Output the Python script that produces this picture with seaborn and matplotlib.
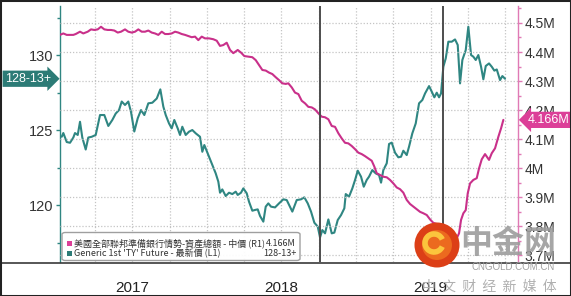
import numpy as np
import pandas as pd
import matplotlib
matplotlib.use("Agg")
import matplotlib.pyplot as plt
import matplotlib.transforms as mtransforms
from matplotlib.patches import FancyBboxPatch, Rectangle, Ellipse, Arc
from matplotlib.lines import Line2D
import seaborn as sns

# ---------------- data (weeks since 2017-01-01) ----------------
ty_week = [1.40, 1.96, 3.15, 4.30, 5.46, 6.05, 7.00, 7.80, 8.60, 9.79, 10.70, 11.89, 13.29,
           14.80, 16.30, 17.70, 19.10, 20.29, 21.44, 22.39, 23.54, 24.69, 25.64, 26.79, 27.98,
           29.14, 30.29, 31.69, 33.09, 34.63, 35.89, 36.94, 37.78, 38.93, 39.87, 40.78, 41.97,
           42.78, 43.58, 44.77, 45.93, 47.08, 48.27, 49.77, 50.58, 51.28, 52.47, 53.87, 55.26,
           56.17, 56.77, 57.57, 58.76, 59.92, 61.07, 62.26, 62.96, 64.11, 64.92, 66.11, 66.91,
           68.07, 69.01, 69.95, 70.76, 71.92, 72.75, 73.66, 74.61, 76.01, 77.41, 78.91, 80.10,
           82.06, 83.60, 85.10, 86.26, 87.45, 88.60, 89.76, 90.95, 91.75, 92.55, 93.50, 94.66,
           95.84, 96.75, 97.94, 99.10, 100.25, 100.74, 101.90, 103.05, 104.00, 104.94, 106.09,
           107.04, 108.08, 108.89, 110.04, 111.23, 112.39, 113.09, 113.89, 115.08, 115.89,
           116.83, 117.98, 119.14, 120.08, 120.89, 122.07, 122.88, 124.03, 125.22, 126.38,
           127.53, 128.48, 129.88, 130.82, 131.73, 132.57, 133.38, 134.07, 134.88, 135.72,
           136.63, 137.82, 138.97, 139.91, 140.72, 141.53, 142.71, 143.62, 144.57, 145.37,
           146.21, 147.12, 148.07, 148.87, 149.71, 150.86, 151.81, 152.72, 153.56, 154.71,
           155.52, 156.46]
ty_price = [124.55, 124.80, 124.20, 124.15, 124.50, 124.80, 124.67, 125.55, 124.50, 123.70,
            124.50, 124.55, 124.67, 126.00, 126.00, 125.27, 125.67, 126.10, 126.33, 126.90,
            126.67, 126.90, 126.20, 124.90, 125.78, 126.33, 126.00, 126.78, 126.82, 127.10,
            127.71, 126.56, 126.00, 125.44, 125.11, 125.67, 125.11, 124.67, 125.22, 124.67,
            124.89, 125.00, 124.78, 124.55, 123.55, 124.00, 123.44, 122.78, 122.11, 121.56,
            120.82, 121.04, 120.60, 120.82, 120.73, 120.89, 120.67, 120.82, 121.11, 120.78,
            120.22, 119.62, 119.67, 119.71, 119.27, 118.89, 119.89, 120.11, 119.89, 119.84,
            120.11, 120.38, 120.33, 119.56, 120.33, 120.38, 120.51, 120.11, 119.56, 118.82,
            118.56, 117.84, 118.33, 118.11, 119.04, 118.11, 118.16, 119.00, 119.33, 119.78,
            120.73, 120.56, 121.11, 121.67, 122.29, 121.89, 121.22, 121.67, 121.89, 122.33,
            122.11, 122.00, 121.49, 122.33, 122.78, 124.07, 124.16, 123.49, 123.18, 123.22,
            123.62, 123.33, 123.89, 124.78, 125.44, 126.78, 127.00, 127.44, 127.93, 127.56,
            127.18, 127.49, 127.18, 127.44, 129.22, 129.78, 130.89, 130.89, 131.04, 130.67,
            128.11, 129.67, 130.33, 131.89, 130.00, 129.89, 129.67, 130.00, 129.22, 128.38,
            129.27, 129.44, 129.22, 128.96, 129.04, 128.33, 128.60, 128.42]

fed_week = [0.80, 1.96, 3.15, 4.30, 5.46, 6.30, 7.80, 8.95, 10.49, 11.65, 12.80, 13.99, 15.14,
            16.30, 17.49, 18.64, 19.80, 20.99, 22.14, 23.54, 24.69, 25.88, 27.04, 28.19, 29.38,
            30.53, 31.69, 32.88, 34.03, 35.19, 36.38, 37.53, 38.69, 39.87, 41.03, 42.18, 43.37,
            44.53, 45.68, 46.87, 48.03, 49.18, 50.37, 51.52, 52.92, 54.43, 55.61, 56.77, 57.92,
            59.11, 60.27, 61.42, 62.96, 64.11, 65.27, 66.67, 68.07, 69.26, 70.41, 71.57, 72.75,
            73.91, 75.06, 76.25, 77.41, 78.56, 79.75, 80.66, 81.85, 83.00, 84.16, 85.34, 86.50,
            87.65, 88.84, 89.99, 91.14, 92.34, 93.49, 94.66, 95.84, 96.99, 98.15, 99.34, 100.49,
            101.64, 102.83, 103.99, 105.14, 106.33, 107.48, 108.64, 109.83, 110.74, 111.58,
            112.73, 113.89, 115.08, 116.23, 117.39, 118.57, 119.73, 120.89, 122.07, 123.23,
            124.38, 125.57, 126.72, 127.88, 129.07, 130.22, 131.38, 132.57, 133.72, 134.88,
            136.07, 137.22, 138.38, 139.57, 140.37, 141.07, 141.88, 142.71, 143.41, 144.22,
            145.37, 146.56, 147.37, 148.31, 149.46, 150.86, 151.81, 152.96, 154.13, 155.07,
            155.87]
fed_assets = [4.459, 4.464, 4.459, 4.459, 4.459, 4.462, 4.470, 4.464, 4.470, 4.478, 4.476, 4.478,
              4.487, 4.478, 4.476, 4.476, 4.474, 4.467, 4.470, 4.478, 4.470, 4.467, 4.470, 4.478,
              4.470, 4.470, 4.474, 4.467, 4.464, 4.459, 4.470, 4.462, 4.462, 4.464, 4.470, 4.467,
              4.462, 4.459, 4.455, 4.451, 4.453, 4.441, 4.453, 4.447, 4.447, 4.444, 4.439, 4.421,
              4.424, 4.432, 4.407, 4.396, 4.407, 4.398, 4.386, 4.384, 4.382, 4.372, 4.355, 4.338,
              4.336, 4.329, 4.324, 4.313, 4.303, 4.292, 4.290, 4.292, 4.278, 4.260, 4.255, 4.232,
              4.223, 4.211, 4.209, 4.202, 4.189, 4.177, 4.175, 4.168, 4.145, 4.142, 4.120, 4.102,
              4.087, 4.085, 4.076, 4.065, 4.053, 4.048, 4.041, 4.033, 4.025, 4.005, 3.982, 3.976,
              3.970, 3.968, 3.959, 3.947, 3.933, 3.927, 3.915, 3.890, 3.876, 3.867, 3.858, 3.849,
              3.844, 3.838, 3.823, 3.811, 3.807, 3.798, 3.786, 3.775, 3.769, 3.761, 3.758, 3.775,
              3.821, 3.844, 3.855, 3.913, 3.947, 3.959, 3.965, 3.999, 4.030, 4.048, 4.028, 4.051,
              4.068, 4.108, 4.137, 4.166]

year_labels = ["2017", "2018", "2019"]
year_mid_weeks = [26.09, 78.27, 130.45]
quarter_weeks = [13.045 * k for k in range(1, 13)]
event_weeks = [91.7, 134.8]
left_major = [120, 125, 130]
left_minor = [117.5, 122.5, 127.5, 132.5]
right_major = [3.7, 3.8, 3.9, 4.0, 4.1, 4.2, 4.3, 4.4, 4.5]
right_minor = [3.75, 3.85, 3.95, 4.05, 4.15, 4.25, 4.35, 4.45, 4.55]
last_ty_label = "128-13+"
last_fed_label = "4.166M"
legend_labels = ["美國全部聯邦準備銀行情勢-資產總額 - 中價 (R1)",
                 "Generic 1st 'TY' Future - 最新價 (L1)"]

TEAL = "#2f8682"
TEAL_BOX = "#2c7b76"
PINK = "#c9308a"
PINK_BOX = "#dc3f98"
GRID = "#c4c4c4"

sns.set_theme(style="white")
plt.rcParams["font.family"] = ["Liberation Sans Narrow", "Liberation Sans", "DejaVu Sans"]
CJK = ["Noto Sans CJK TC", "DejaVu Sans"]

W, H = 571, 296
fig = plt.figure(figsize=(W / 100, H / 100), dpi=100)
fig.patch.set_facecolor("white")


def fx(px):
    return px / W


def fy(py):
    return 1 - py / H


ax = fig.add_axes([fx(60), fy(262), (518 - 60) / W, (262 - 6) / H])
ax2 = ax.twinx()

ty_df = pd.DataFrame({"week": ty_week, "price": ty_price})
fed_df = pd.DataFrame({"week": fed_week, "assets": fed_assets})

sns.lineplot(data=ty_df, x="week", y="price", ax=ax, color=TEAL, linewidth=1.5, zorder=3)
sns.lineplot(data=fed_df, x="week", y="assets", ax=ax2, color=PINK, linewidth=1.5, zorder=3)

ax.set_xlim(0.80, 160.99)
ax.set_ylim(116.2, 133.27)
ax2.set_ylim(3.676, 4.5586)
for a in (ax, ax2):
    a.set_xlabel("")
    a.set_ylabel("")
    for s in a.spines.values():
        s.set_visible(False)
ax.spines["left"].set_visible(True)
ax.spines["left"].set_color(TEAL)
ax.spines["left"].set_linewidth(1.0)
ax2.spines["right"].set_visible(True)
ax2.spines["right"].set_color("#e07ab5")
ax2.spines["right"].set_linewidth(1.0)

# left axis ticks
ax.set_yticks(left_major)
ax.set_yticks(left_minor, minor=True)
ax.set_yticklabels([str(v) for v in left_major])
ax.tick_params(axis="y", which="both", left=True, right=False, colors=TEAL,
               labelcolor="#333333", direction="out", width=1)
ax.tick_params(axis="y", which="major", length=3, labelsize=10.5, pad=1.5)
ax.tick_params(axis="y", which="minor", length=2)

# right axis ticks
ax2.set_yticks(right_major)
ax2.set_yticks(right_minor, minor=True)
ax2.set_yticklabels([f"{v:g}M" for v in right_major])
ax2.tick_params(axis="y", which="both", right=True, left=False, colors="#e07ab5",
                labelcolor="#333333", direction="out", width=1)
ax2.tick_params(axis="y", which="major", length=3, labelsize=10, pad=1.5)
ax2.tick_params(axis="y", which="minor", length=2)

# x axis: quarter grid + year labels (mid-year)
ax.xaxis.remove_overlapping_locs = False
ax.set_xticks(quarter_weeks)
ax.set_xticklabels([""] * len(quarter_weeks))
ax.set_xticks(year_mid_weeks, minor=True)
ax.set_xticklabels(year_labels, minor=True)
ax.tick_params(axis="x", which="both", length=0, bottom=True, labelbottom=True)
ax.tick_params(axis="x", which="minor", pad=14, labelsize=11, labelcolor="#222222")

ax.grid(axis="x", which="major", linestyle=(0, (1, 1.5)), color=GRID, linewidth=0.9)
ax.grid(axis="y", visible=False)
ax2.grid(axis="y", which="major", linestyle=(0, (1, 1.5)), color=GRID, linewidth=0.9)
ax2.grid(axis="x", visible=False)

for w in event_weeks:
    ax2.axvline(w, color="#4d4d4d", linewidth=1.4, zorder=4)

# last-value callouts
tl = mtransforms.blended_transform_factory(ax.transAxes, ax.transData)
ax.text(-0.02, ty_price[-1], last_ty_label, transform=tl, ha="right", va="center",
        color="white", fontsize=9, clip_on=False,
        bbox=dict(boxstyle="rarrow,pad=0.17", fc=TEAL_BOX, ec="none"))
tr = mtransforms.blended_transform_factory(ax2.transAxes, ax2.transData)
ax2.text(1.021, fed_assets[-1], last_fed_label, transform=tr, ha="left", va="center",
         color="white", fontsize=9, clip_on=False,
         bbox=dict(boxstyle="larrow,pad=0.17", fc=PINK_BOX, ec="none"))

# legend box
leg = FancyBboxPatch((fx(62), fy(260.5)), (300 - 62) / W, (260.5 - 232.5) / H,
                     boxstyle="round,pad=0,rounding_size=0.006", transform=fig.transFigure,
                     fc="white", ec="#9a9a9a", lw=1.0, alpha=0.95, zorder=5)
fig.add_artist(leg)
for i, (lab, col, val) in enumerate(zip(legend_labels, [PINK_BOX, TEAL_BOX],
                                        [last_fed_label, last_ty_label])):
    yc = 243 + 10 * i
    fig.add_artist(Rectangle((fx(66.5), fy(yc + 2.5)), 5 / W, 5 / H, transform=fig.transFigure,
                             fc=col, ec="none", zorder=6))
    fig.text(fx(74), fy(yc), lab, ha="left", va="center", fontsize=6.5, color="#333333",
             family=CJK, zorder=6)
    fig.text(fx(296), fy(yc), val, ha="right", va="center", fontsize=6.5, color="#333333",
             family=CJK, zorder=6)

# baseline across the figure and outer frame
fig.add_artist(Line2D([0, 1], [fy(262.5), fy(262.5)], transform=fig.transFigure,
                      color="#3a3a3a", lw=1.2, zorder=2))
fig.add_artist(Rectangle((0, 0), 1, 1, transform=fig.transFigure, fill=False,
                         ec="#222222", lw=2.2, zorder=10))

# watermark
fig.add_artist(Ellipse((fx(437), fy(245)), 45 / W, 45 / H, transform=fig.transFigure,
                       fc="#dc3f17", ec="none", zorder=7))
fig.add_artist(Ellipse((fx(437), fy(245)), 30 / W, 30 / H, transform=fig.transFigure,
                       fc="#ec6a1f", ec="none", zorder=7))
fig.add_artist(Arc((fx(434), fy(243)), 18 / W, 18 / H, theta1=40, theta2=320,
                   transform=fig.transFigure, color="#fbc53d", lw=4, zorder=8))
fig.text(fx(508), fy(244), "中金网", ha="center", va="center", fontsize=23, fontweight="bold",
         color="#9c9c9c", alpha=0.9, family=["Noto Sans CJK SC", "DejaVu Sans"], zorder=8)
fig.text(fx(513), fy(267.5), "CNGOLD.COM.CN", ha="center", va="center", fontsize=7,
         color="#a0a0a0", family=["Liberation Sans", "DejaVu Sans"], zorder=8)
fig.text(fx(489), fy(287), "中  文  财  经  新  媒  体", ha="center", va="center", fontsize=10,
         color="#b0b0b0", family=["Noto Sans CJK SC", "DejaVu Sans"], zorder=8)

fig.savefig("out.png", dpi=100)
